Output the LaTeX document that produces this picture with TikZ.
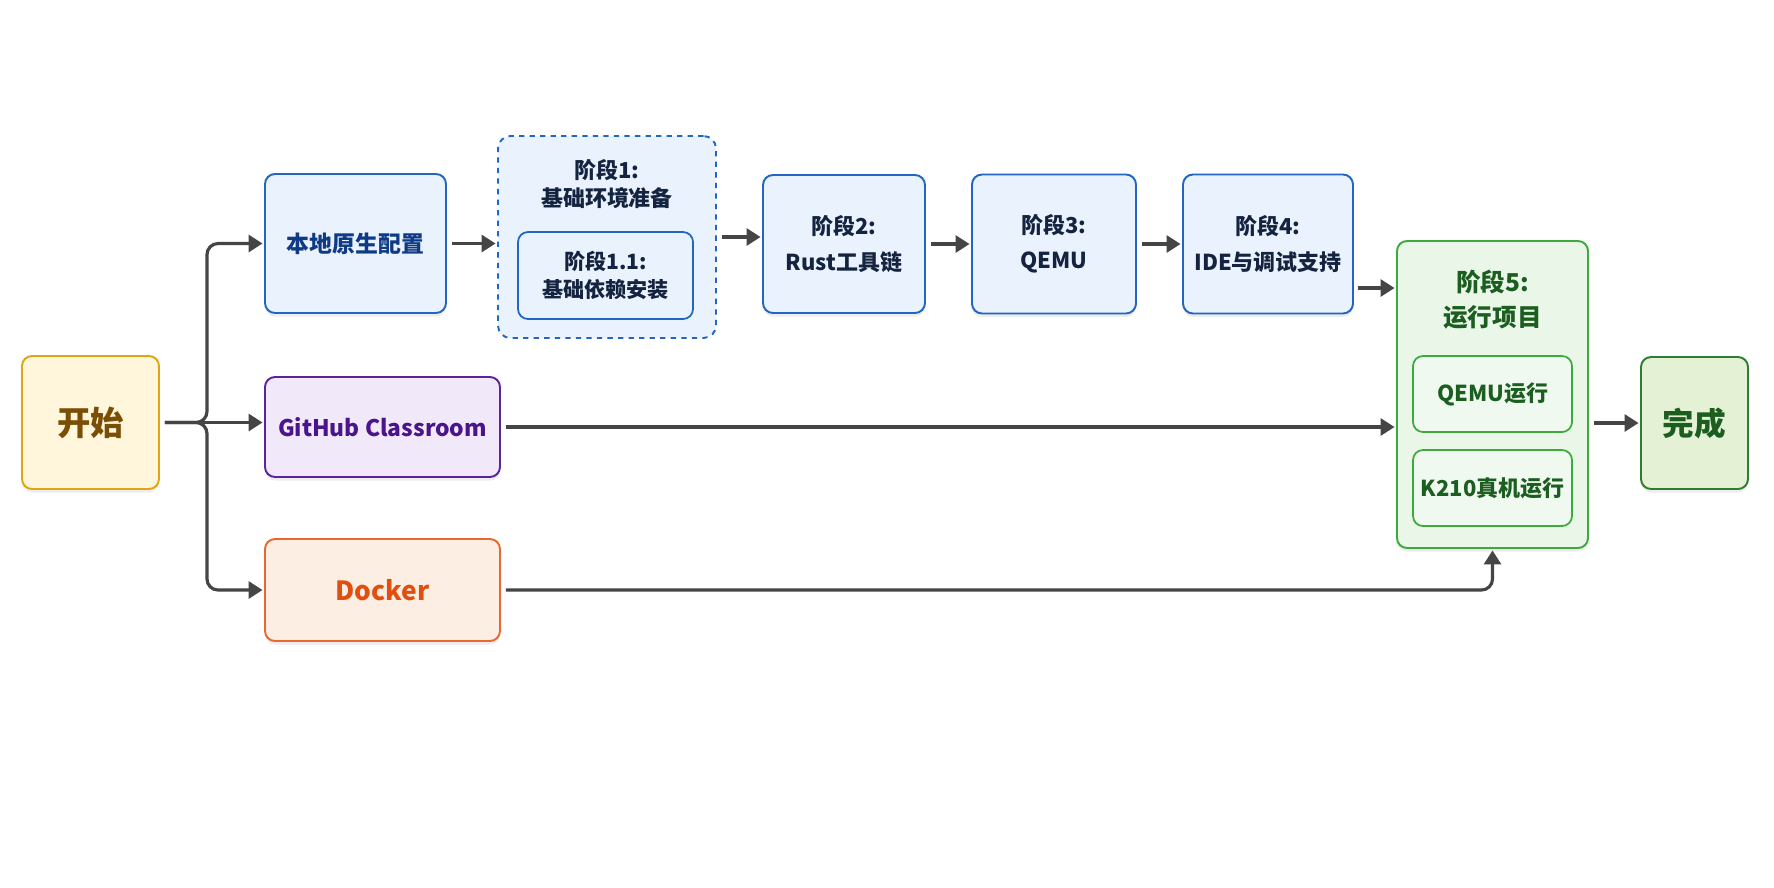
\documentclass[tikz,border=0pt]{standalone}
\usepackage{fontspec}
\setmainfont{Noto Sans CJK SC}
\usetikzlibrary{arrows.meta,shadows}
\definecolor{startFill}{HTML}{FFF6DC}
\definecolor{startLine}{HTML}{DFA514}
\definecolor{startInk}{HTML}{7A4E05}
\definecolor{paleBlue}{HTML}{EAF3FD}
\definecolor{stageBlue}{HTML}{2366C2}
\definecolor{ink}{HTML}{14233F}
\definecolor{localInk}{HTML}{0E3A86}
\definecolor{paleViolet}{HTML}{F1E9FA}
\definecolor{violetLine}{HTML}{5B23A0}
\definecolor{violetInk}{HTML}{4A148C}
\definecolor{paleOrange}{HTML}{FDEEE4}
\definecolor{orangeLine}{HTML}{E8692E}
\definecolor{orangeInk}{HTML}{E04F0F}
\definecolor{paleGreen}{HTML}{EAF7E8}
\definecolor{greenLine}{HTML}{3DAA3D}
\definecolor{greenInk}{HTML}{1B5E20}
\definecolor{doneFill}{HTML}{E5F1D4}
\definecolor{doneLine}{HTML}{2E7D32}
\definecolor{arrowGray}{HTML}{454545}
\newlength\pxu
\setlength\pxu{0.02cm}

\begin{document}
\begin{tikzpicture}[
  x=\pxu, y=-\pxu,
  box/.style={rounded corners=0.2cm, line width=1.1pt, align=center,
    drop shadow={opacity=0.14, shadow xshift=0pt, shadow yshift=-0.07cm}},
  stagebox/.style={box, fill=paleBlue, draw=stageBlue, text=ink,
    font=\fontsize{12.5}{20}\selectfont\bfseries},
  runbox/.style={rounded corners=0.2cm, line width=1pt, align=center,
    fill=paleGreen!70!white, draw=greenLine, text=greenInk,
    minimum width=159\pxu, minimum height=76\pxu,
    font=\fontsize{12.5}{15}\selectfont\bfseries},
  flow/.style={-{Triangle[length=0.28cm,width=0.34cm]}, line width=1.8pt,
    draw=arrowGray, shorten <=0.1cm, shorten >=0.03cm}
]
\fill[white] (0,0) rectangle (1774,887);
\useasboundingbox (0,0) rectangle (1774,887);

\node[box, fill=startFill, draw=startLine, text=startInk,
  minimum width=137\pxu, minimum height=133\pxu,
  font=\fontsize{19}{22}\selectfont\bfseries] (start) at (90.5,422.5) {开始};

\node[box, fill=paleBlue, draw=stageBlue, text=localInk,
  minimum width=181\pxu, minimum height=139\pxu,
  font=\fontsize{13}{16}\selectfont\bfseries] (local) at (355.5,243.5) {本地原生配置};
\node[box, fill=paleViolet, draw=violetLine, text=violetInk,
  minimum width=235\pxu, minimum height=100\pxu,
  font=\fontsize{13}{16}\selectfont\bfseries] (github) at (382.5,427) {GitHub Classroom};
\node[box, fill=paleOrange, draw=orangeLine, text=orangeInk,
  minimum width=235\pxu, minimum height=102\pxu,
  font=\fontsize{15}{18}\selectfont\bfseries] (docker) at (382.5,590) {Docker};

\node[rounded corners=0.25cm, line width=1.1pt, dashed, fill=paleBlue, draw=stageBlue,
  minimum width=218\pxu, minimum height=202\pxu] (s1) at (607,237) {};
\node[text=ink, align=center, font=\fontsize{12.5}{16}\selectfont\bfseries]
  (s1title) at (607,184) {阶段1:\\基础环境准备};
\node[rounded corners=0.2cm, line width=1pt, draw=stageBlue, fill=paleBlue, text=ink,
  align=center, minimum width=175\pxu, minimum height=87\pxu,
  font=\fontsize{12}{16}\selectfont\bfseries] (s11) at (605.5,275.5) {阶段1.1:\\基础依赖安装};

\node[stagebox, minimum width=162\pxu, minimum height=138\pxu] (s2) at (844,244) {阶段2:\\Rust工具链};
\node[stagebox, minimum width=164\pxu, minimum height=139\pxu] (s3) at (1054,244) {阶段3:\\QEMU};
\node[stagebox, minimum width=170\pxu, minimum height=139\pxu] (s4) at (1268,244) {阶段4:\\IDE与调试支持};

\node[box, fill=paleGreen, draw=greenLine,
  minimum width=191\pxu, minimum height=307\pxu] (s5) at (1492.5,394.5) {};
\node[text=greenInk, align=center, font=\fontsize{14}{20}\selectfont\bfseries]
  (s5title) at (1492.5,299.5) {阶段5:\\运行项目};
\node[runbox] (qemu) at (1492.5,394) {QEMU运行};
\node[runbox] (k210) at (1492.5,488) {K210真机运行};

\node[box, fill=doneFill, draw=doneLine, text=greenInk,
  minimum width=107\pxu, minimum height=132\pxu,
  font=\fontsize{18}{22}\selectfont\bfseries] (done) at (1694.5,423) {完成};

\coordinate (fork) at (207,422.5);
\draw[flow, rounded corners=0.22cm] (start.east) -- (fork) |- (local.west);
\draw[flow, rounded corners=0.22cm] (start.east) -- (fork) |- (docker.west);
\draw[flow] (start.east) -- (start.east -| github.west);

\draw[flow] (local.east) -- (local.east -| s1.west);
\draw[flow] (s1.east) -- (s1.east -| s2.west);
\draw[flow] (s2.east) -- (s2.east -| s3.west);
\draw[flow] (s3.east) -- (s3.east -| s4.west);
\coordinate (s4out) at (1353,288);
\draw[flow] (s4out) -- (s4out -| s5.west);
\draw[flow] (github.east) -- (github.east -| s5.west);
\draw[flow, rounded corners=0.22cm] (docker.east) -| (s5.south);
\draw[flow] (done.west -| s5.east) -- (done.west);
\end{tikzpicture}
\end{document}
